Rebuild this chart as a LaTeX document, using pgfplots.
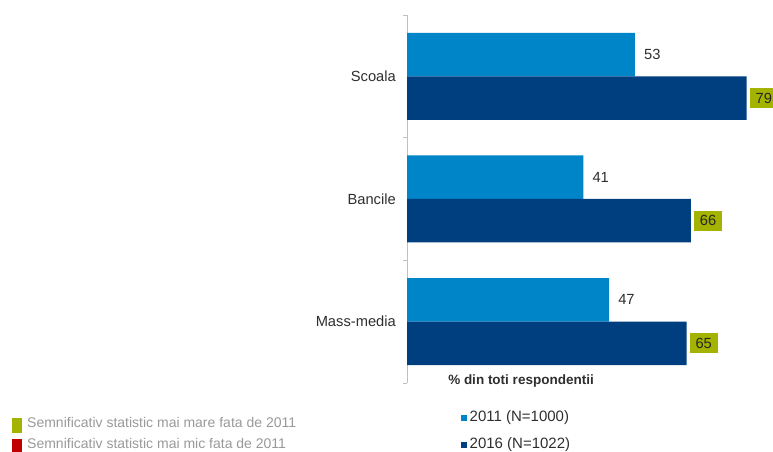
\documentclass[border=0pt]{standalone}
\usepackage{fontspec}
\setmainfont{Liberation Sans}
\usepackage{pgfplots}
\pgfplotsset{compat=1.18}
\definecolor{c2011}{HTML}{0085C8}
\definecolor{c2016}{HTML}{003F7F}
\definecolor{sigup}{HTML}{A3B300}
\definecolor{sigdn}{HTML}{C00000}
\definecolor{txt}{HTML}{2E2E2E}
\definecolor{axgray}{HTML}{C0C0C0}
\begin{document}
\begin{tikzpicture}[x=1pt,y=1pt]
\useasboundingbox (0,0) rectangle (773,452);
\clip (0,0) rectangle (773,452);
\begin{axis}[
  at={(407pt,69pt)}, anchor=south west,
  scale only axis, width=365.5pt, height=368pt,
  xmin=0, xmax=85, ymin=-0.5, ymax=2.5,
  xbar, bar width=43.5pt,
  axis x line=none, axis y line*=left,
  y axis line style={draw=axgray, line width=0.8pt},
  xtick=\empty,
  ytick={0,1,2}, yticklabels={Mass-media,Bancile,Scoala},
  major tick length=0pt,
  yticklabel style={font=\fontsize{14.7}{17}\selectfont, text=txt, anchor=east, inner sep=0pt, xshift=-11pt},
  extra y ticks={-0.5,0.5,1.5,2.5}, extra y tick labels={},
  extra y tick style={major tick length=4pt, tick align=outside, tick style={draw=axgray, line width=0.8pt}},
  point meta=x,
  /pgf/number format/assume math mode=true,
  legend style={at={(0.1477,-0.077)}, anchor=north west, draw=none, fill=none, inner sep=0pt,
    font=\fontsize{15}{17}\selectfont, text=txt,
    nodes={inner sep=0pt, text height=10pt, text depth=3pt},
    row sep=14pt, cells={anchor=west}},
]
\addplot[draw=none, fill=c2011, bar shift=21.75pt,
  nodes near coords,
  every node near coord/.append style={font=\fontsize{14.7}{17}\selectfont, text=txt, anchor=west, inner sep=0pt, xshift=9pt},
  legend image code/.code={\fill[c2011] (0pt,-3pt) rectangle (6pt,3pt);}]
  coordinates {(47,0) (41,1) (53,2)};
\addlegendentry{\,2011 (N=1000)}
\addplot[draw=none, fill=c2016, bar shift=-21.75pt,
  nodes near coords,
  every node near coord/.append style={font=\fontsize{14.7}{17}\selectfont, text=black!85, fill=sigup, anchor=west, inner sep=0pt, minimum width=28pt, minimum height=20pt, xshift=3pt},
  legend image code/.code={\fill[c2016] (0pt,-3pt) rectangle (6pt,3pt);}]
  coordinates {(65,0) (66,1) (79,2)};
\addlegendentry{\,2016 (N=1022)}
\end{axis}
\node[font=\bfseries\fontsize{13.5}{16}\selectfont, text=txt, inner sep=0pt] at (521,71) {\% din toti respondentii};
\fill[sigup] (12,19) rectangle (22,34);
\fill[sigdn] (12,0) rectangle (22,13);
\node[anchor=west, inner sep=0pt, font=\fontsize{14}{16}\selectfont, text=black!40] at (27,30) {Semnificativ statistic mai mare fata de 2011};
\node[anchor=west, inner sep=0pt, font=\fontsize{14}{16}\selectfont, text=black!40] at (27,9) {Semnificativ statistic mai mic fata de 2011};
\end{tikzpicture}
\end{document}
